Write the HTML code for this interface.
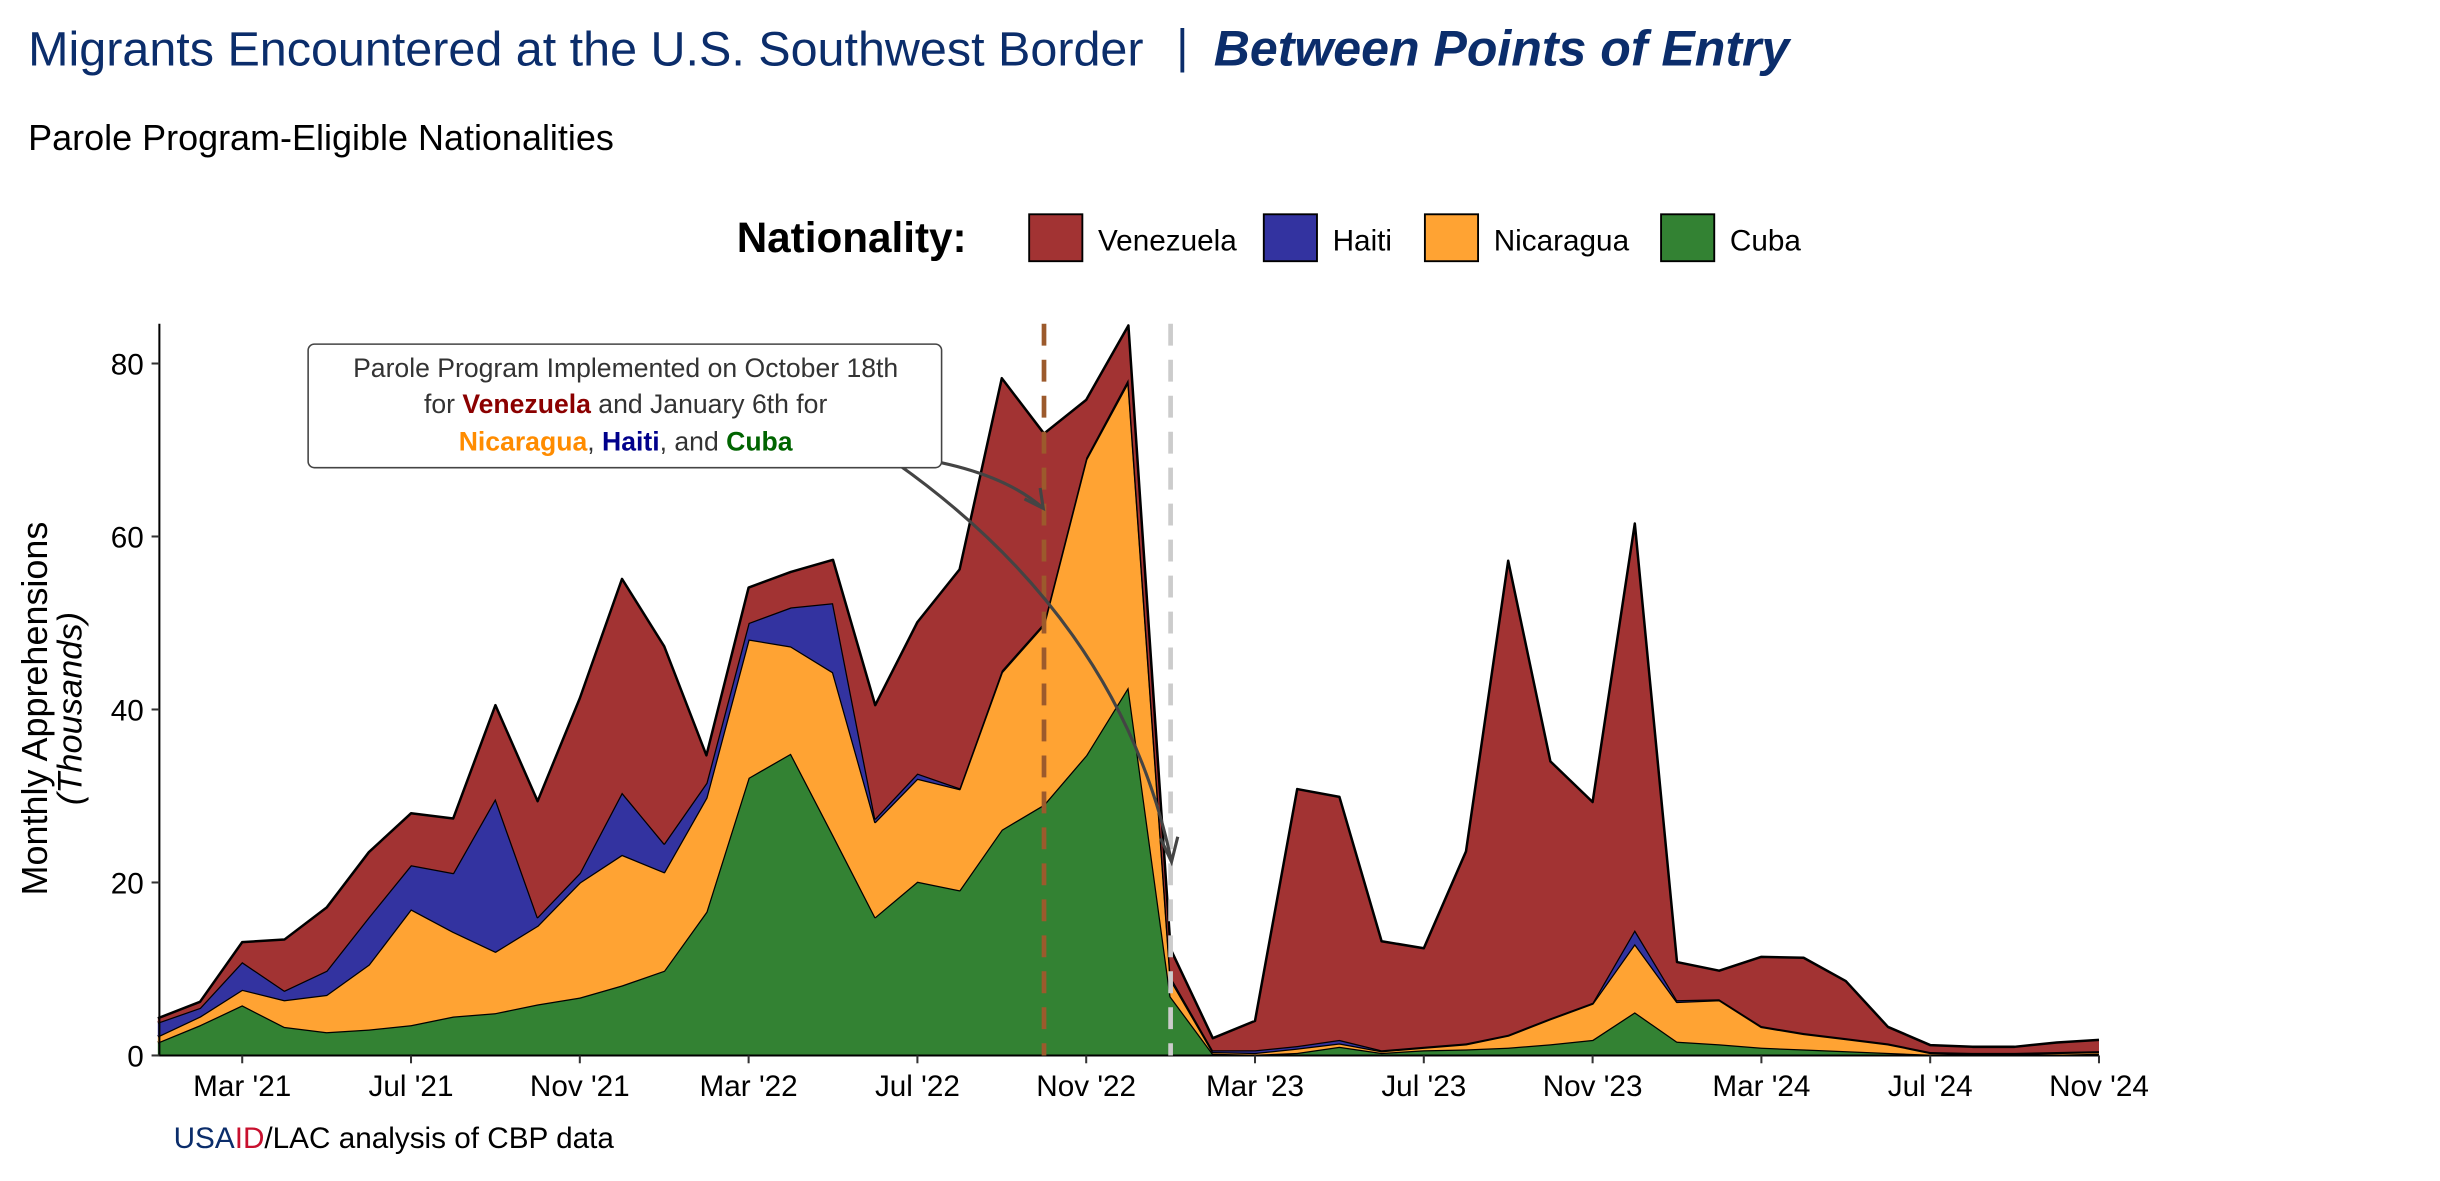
<!DOCTYPE html>
<html><head><meta charset="utf-8"><style>
html,body{margin:0;padding:0;background:#fff;}
svg{display:block;}
text{font-family:"Liberation Sans",sans-serif;}
</style></head><body>
<svg id="chart" width="2440" height="1181" viewBox="0 0 1560 755.06" xmlns="http://www.w3.org/2000/svg">
<text x="18" y="42" font-family="Liberation Serif, serif" font-size="31" fill="#0b2d6b">Migrants Encountered at the U.S. Southwest Border</text>
<text x="752" y="40" font-size="30" fill="#0b2d6b">|</text>
<text x="776" y="42" font-size="32" font-weight="bold" font-style="italic" fill="#0b2d6b">Between Points of Entry</text>
<text x="18" y="96" font-size="23" fill="#000">Parole Program-Eligible Nationalities</text>
<g>
<text x="471" y="161" font-size="27" font-weight="bold">Nationality:</text>
<rect x="658" y="137" width="34" height="30" fill="#A23333" stroke="#000" stroke-width="1.2"/>
<text x="702" y="160" font-size="19">Venezuela</text>
<rect x="808" y="137" width="34" height="30" fill="#3333A0" stroke="#000" stroke-width="1.2"/>
<text x="852" y="160" font-size="19">Haiti</text>
<rect x="911" y="137" width="34" height="30" fill="#FFA333" stroke="#000" stroke-width="1.2"/>
<text x="955" y="160" font-size="19">Nicaragua</text>
<rect x="1062" y="137" width="34" height="30" fill="#338233" stroke="#000" stroke-width="1.2"/>
<text x="1106" y="160" font-size="19">Cuba</text>
</g>
<g transform="translate(30,453) rotate(-90)">
<text x="0" y="0" text-anchor="middle" font-size="23">Monthly Apprehensions</text>
<text x="0" y="22" text-anchor="middle" font-size="22" font-style="italic">(Thousands)</text>
</g>
<g id="areas"></g>
<g id="axes"></g>
<g id="annot"></g>
<text x="111" y="734" font-size="19"><tspan fill="#0b2d6b">USA</tspan><tspan fill="#c8102e">ID</tspan><tspan fill="#000">/LAC analysis of CBP data</tspan></text>
</svg>
<script>
const months = ["Jan '21","Feb '21","Mar '21","Apr '21","May '21","Jun '21","Jul '21","Aug '21","Sep '21","Oct '21","Nov '21","Dec '21","Jan '22","Feb '22","Mar '22","Apr '22","May '22","Jun '22","Jul '22","Aug '22","Sep '22","Oct '22","Nov '22","Dec '22","Jan '23","Feb '23","Mar '23","Apr '23","May '23","Jun '23","Jul '23","Aug '23","Sep '23","Oct '23","Nov '23","Dec '23","Jan '24","Feb '24","Mar '24","Apr '24","May '24","Jun '24","Jul '24","Aug '24","Sep '24","Oct '24","Nov '24"];
const cuba = [1.5,3.5,5.8,3.3,2.7,3.0,3.5,4.5,4.9,5.9,6.7,8.1,9.8,16.6,32.1,34.9,25.5,16.0,20.1,19.1,26.1,29.0,34.7,42.6,6.8,0.2,0.1,0.3,1.0,0.3,0.6,0.7,0.9,1.3,1.8,5.0,1.6,1.3,0.9,0.7,0.5,0.3,0.1,0.1,0.1,0.1,0.2];
const nicaragua = [0.7,1.0,1.8,3.1,4.3,7.5,13.4,9.8,7.1,9.1,13.3,15.1,11.4,13.2,16.0,12.4,18.8,11.0,11.9,11.7,18.2,20.8,34.2,35.3,2.0,0.2,0.2,0.5,0.4,0.2,0.3,0.6,1.4,2.9,4.2,7.9,4.6,5.1,2.4,1.8,1.4,1.0,0.2,0.1,0.1,0.2,0.2];
const haiti = [1.6,1.0,3.2,1.1,2.8,5.5,5.1,6.8,17.7,1.0,1.1,7.2,3.3,1.7,1.9,4.5,8.0,0.4,0.6,0.1,0.2,0.2,0.2,0.3,0.3,0.2,0.3,0.3,0.4,0.1,0.1,0.1,0.1,0.1,0.1,1.6,0.2,0.1,0.1,0.1,0.1,0.1,0.1,0.1,0.1,0.1,0.1];
const venezuela = [0.5,0.7,2.3,5.9,7.3,7.5,6.0,6.3,10.8,13.4,20.2,24.7,22.8,3.2,4.1,4.1,5.0,13.1,17.5,25.3,33.8,21.9,6.7,6.2,3.2,1.4,3.4,29.7,28.1,12.6,11.4,22.2,54.8,29.7,23.2,47.0,4.4,3.3,8.0,8.7,6.6,1.9,0.8,0.7,0.7,1.1,1.3];
const yTicks = [0,20,40,60,80];
const xTickIdx = [2,6,10,14,18,22,26,30,34,38,42,46];
const xTickLabels = ["Mar '21","Jul '21","Nov '21","Mar '22","Jul '22","Nov '22","Mar '23","Jul '23","Nov '23","Mar '24","Jul '24","Nov '24"];
const eventIdx = [21.0, 24.0];

const X0=100.9, DX=26.98, Y0=674.8, PY=5.53;
const xs = i => X0 + i*DX;
const ys = v => Y0 - v*PY;
const NS="http://www.w3.org/2000/svg";
function mk(tag, attrs, parent){const e=document.createElementNS(NS,tag);for(const k in attrs)e.setAttribute(k,attrs[k]);parent.appendChild(e);return e;}

const series=[cuba,nicaragua,haiti,venezuela];
const colors=["#338233","#FFA333","#3333A0","#A23333"];
const snames=["area-cuba","area-nicaragua","area-haiti","area-venezuela"];
const areas=document.getElementById('areas');
let base=months.map(()=>0);
series.forEach((s,k)=>{
  const top=base.map((b,i)=>b+s[i]);
  let d="";
  top.forEach((v,i)=>{d+=(i?"L":"M")+xs(i).toFixed(2)+","+ys(v).toFixed(2);});
  for(let i=base.length-1;i>=0;i--) d+="L"+xs(i).toFixed(2)+","+ys(base[i]).toFixed(2);
  d+="Z";
  const p=mk('path',{d:d,fill:colors[k],stroke:"none"},areas);
  
  
  let ld="";
  top.forEach((v,i)=>{ld+=(i?"L":"M")+xs(i).toFixed(2)+","+ys(v).toFixed(2);});
  const l=mk('path',{d:ld,fill:"none",stroke:"#000","stroke-width":1.6,"stroke-linejoin":"round"},areas);
  
  
  base=top;
});

const axes=document.getElementById('axes');
const ya=mk('line',{x1:xs(0)+1,y1:207,x2:xs(0)+1,y2:Y0,stroke:"#000","stroke-width":1.3},axes);


const xa=mk('line',{x1:xs(0),y1:Y0,x2:xs(46),y2:Y0,stroke:"#000","stroke-width":1.3},axes);


yTicks.forEach(v=>{
  mk('line',{x1:xs(0)-4,y1:ys(v),x2:xs(0)+1,y2:ys(v),stroke:"#333","stroke-width":1.3},axes);
  const t=mk('text',{x:xs(0)-9,y:ys(v)+7,"text-anchor":"end","font-size":19},axes);
  t.textContent=v;
  
  
});
xTickIdx.forEach((idx,j)=>{
  mk('line',{x1:xs(idx),y1:Y0,x2:xs(idx),y2:Y0+5,stroke:"#333","stroke-width":1.3},axes);
  const t=mk('text',{x:xs(idx),y:Y0+26,"text-anchor":"middle","font-size":19},axes);
  t.textContent=xTickLabels[j];
  
  
});

const an=document.getElementById('annot');
const d1=mk('line',{x1:xs(eventIdx[0]),y1:207,x2:xs(eventIdx[0]),y2:Y0,stroke:"#9c5a2c","stroke-width":3,"stroke-dasharray":"14,9"},an);


const d2=mk('line',{x1:xs(eventIdx[1]),y1:207,x2:xs(eventIdx[1]),y2:Y0,stroke:"#cccccc","stroke-width":3,"stroke-dasharray":"14,9"},an);


const a1=mk('path',{d:"M573,291 Q638,299 667,325",fill:"none",stroke:"#444","stroke-width":2},an);


mk('path',{d:"M655,319 L667,325 L665,312",fill:"none",stroke:"#444","stroke-width":2},an);
const a2=mk('path',{d:"M573,296 Q717,398 749,551",fill:"none",stroke:"#444","stroke-width":2},an);


mk('path',{d:"M742,536 L749,551 L753,535",fill:"none",stroke:"#444","stroke-width":2},an);
const box=mk('rect',{x:197,y:220,width:405,height:79,rx:4,fill:"#fff",stroke:"#444","stroke-width":1},an);


const t1=mk('text',{x:400,y:241,"text-anchor":"middle","font-size":17,fill:"#333"},an);
t1.textContent="Parole Program Implemented on October 18th";


const t2=mk('text',{x:400,y:264,"text-anchor":"middle","font-size":17,fill:"#333"},an);
t2.innerHTML='for  <tspan font-weight="bold" fill="#8b0000">Venezuela</tspan> and January 6th for';


const t3=mk('text',{x:400,y:288,"text-anchor":"middle","font-size":17,fill:"#333"},an);
t3.innerHTML='<tspan font-weight="bold" fill="#ff8c00">Nicaragua</tspan>, <tspan font-weight="bold" fill="#00008b">Haiti</tspan>, and <tspan font-weight="bold" fill="#006400">Cuba</tspan>';


</script>
</body></html>
